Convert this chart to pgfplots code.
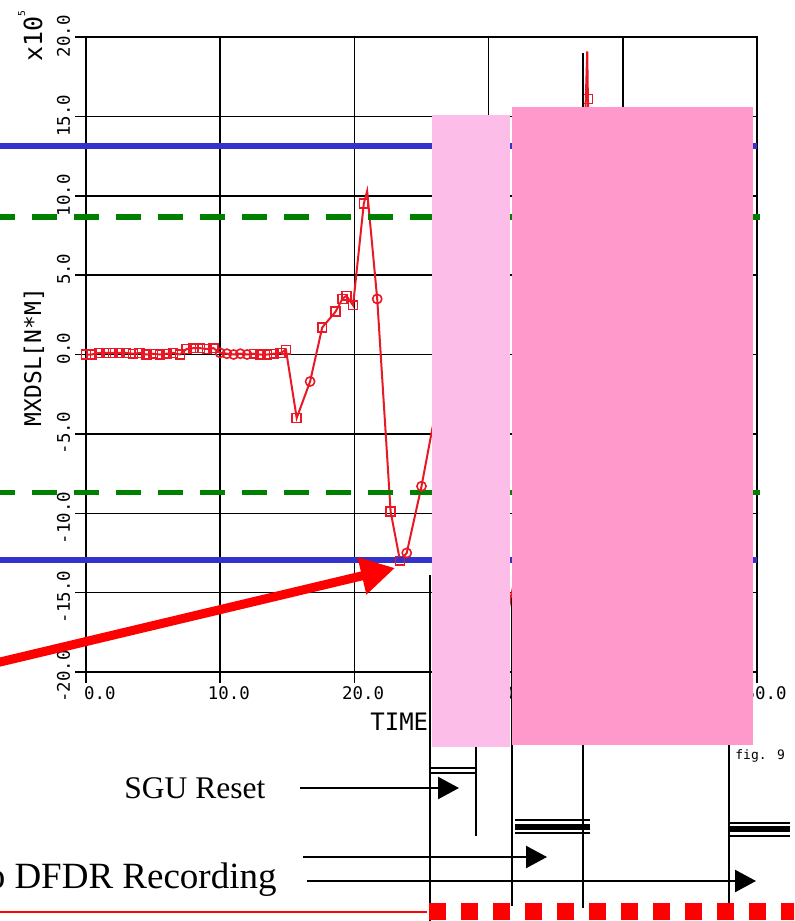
\documentclass[border=0pt]{standalone}
\usepackage{fontspec}
\usepackage{pgfplots}
\pgfplotsset{compat=1.18}
\usetikzlibrary{arrows.meta}
\newfontfamily\plotmono{DejaVu Sans Mono}
\newfontfamily\serifT{Liberation Serif}
\definecolor{bl}{RGB}{51,51,204}
\definecolor{gr}{RGB}{0,128,0}
\definecolor{dat}{RGB}{232,24,36}
\definecolor{pinkA}{RGB}{252,189,232}
\definecolor{pinkB}{RGB}{255,153,204}
\newcommand\ticfont{\plotmono\fontsize{8.7}{9}\selectfont}
\begin{document}
\begin{tikzpicture}
\path[use as bounding box, clip] (0,0) rectangle (397pt,-460.5pt);
\begin{axis}[
 at={(43pt,-336pt)}, anchor=south west,
 scale only axis, width=335.5pt, height=317.5pt,
 xmin=0, xmax=50, ymin=-20, ymax=20,
 xtick={0,10,...,50}, ytick={-20,-15,...,20},
 xticklabels={0.0,10.0,20.0,30.0,40.0,50.0},
 yticklabels={-20.0,-15.0,-10.0,-5.0,0.0,5.0,10.0,15.0,20.0},
 grid=major, major grid style={black, line width=0.75pt},
 axis line style={black, line width=0.8pt},
 tick style={black, line width=0.75pt},
 tick align=outside, major tick length=5.5pt,
 xtick pos=bottom, ytick pos=left,
 xticklabel style={font=\ticfont, anchor=north east, xshift=15pt, yshift=-1.5pt, inner sep=0pt},
 yticklabel style={font=\ticfont, rotate=90, anchor=base east, inner sep=0pt, xshift=11pt, yshift=2.5pt},
 clip=false,
]
% data line
\addplot[dat, line width=1pt, no marks] coordinates {
(0,0) (0.4,0) (1.0,0.1) (1.5,0.1) (2.0,0.1) (2.5,0.1) (3.0,0.1) (3.5,0.05) (4.0,0.1)
(4.5,0) (5.0,0.05) (5.5,0) (6.0,0.05) (6.5,0.1) (7.0,0) (7.5,0.35) (8.0,0.4) (8.5,0.4)
(9.0,0.35) (9.5,0.4) (10.0,0.1) (10.5,0.05) (11.0,0) (11.5,0.05) (12.0,0) (12.5,0.05)
(13.0,0) (13.5,0) (14.0,0.05) (14.5,0.1) (14.9,0.3) (15.7,-4.0) (16.7,-1.7) (17.6,1.7)
(18.6,2.7) (19.1,3.5) (19.4,3.7) (19.9,3.1) (20.7,9.5) (20.95,10.3) (21.7,3.5)
(22.7,-9.9) (23.4,-13.0) (23.9,-12.5) (25.0,-8.3) (25.8,-4.7)
(26.6,-1.5) (27.5,2) (28.5,4) (29.5,1) (30.5,-7) (31.2,-12.5) (31.6,-15.6) (32.2,-13)
(33.5,-6) (34.5,0) (35.5,4) (36.5,8) (37.1,12) (37.35,19.1) (37.4,16.1) (37.55,12)
(38.5,3) (40,0) (45,0)};
% square marks
\addplot[dat, line width=0.8pt, only marks, mark=square, mark size=2.2pt] coordinates {
(0,0) (0.4,0) (1.0,0.1) (1.5,0.1) (2.0,0.1) (2.5,0.1) (3.0,0.1) (3.5,0.05) (4.0,0.1)
(4.5,0) (5.0,0.05) (5.5,0) (6.0,0.05) (6.5,0.1) (7.0,0) (7.5,0.35) (8.0,0.4) (8.5,0.4)
(9.0,0.35) (9.5,0.4) (12.5,0.05) (13.0,0) (13.5,0) (14.0,0.05) (14.5,0.1) (14.9,0.3)
(15.7,-4.0) (17.6,1.7) (18.6,2.7) (19.1,3.5) (19.4,3.7) (19.9,3.1) (20.7,9.5)
(22.7,-9.9) (23.4,-13.0) (37.4,16.1)};
% circle marks
\addplot[dat, line width=0.8pt, only marks, mark=o, mark size=2.3pt] coordinates {
(10.0,0.1) (10.5,0.05) (11.0,0) (11.5,0.05) (12.0,0) (16.7,-1.7) (21.7,3.5) (23.9,-12.5) (25.0,-8.3)};
% limit lines
\addplot[bl, line width=2.8pt, no marks] coordinates {(-7,13.13) (50,13.13)};
\addplot[bl, line width=2.8pt, no marks] coordinates {(-7,-12.94) (50,-12.94)};
\addplot[gr, line width=2.8pt, no marks, dash pattern=on 12.5pt off 8.5pt, dash phase=1pt] coordinates {(-7,8.67) (50.2,8.67)};
\addplot[gr, line width=2.8pt, no marks, dash pattern=on 12.5pt off 8.5pt, dash phase=1pt] coordinates {(-7,-8.69) (50.2,-8.69)};
\end{axis}
\begin{scope}[x=0.5pt, y=-0.5pt]
\node[rotate=90, font=\plotmono\fontsize{11.5}{12}\selectfont, inner sep=0pt] at (34,357) {MXDSL[N*M]};
\node[rotate=90, anchor=base west, inner sep=0pt, font=\plotmono\fontsize{12.5}{13}\selectfont] at (42,62) {x10\raisebox{8.5pt}{\fontsize{4.8}{5}\selectfont 5}};
\node[anchor=base west, inner sep=0pt, font=\plotmono\fontsize{12}{12}\selectfont] at (370,730) {TIME};
\node[anchor=base west, inner sep=0pt, font=\plotmono\fontsize{6.5}{7}\selectfont] at (735,759) {fig. 9};
% timeline vertical lines
\draw[black, line width=1.3pt] (430,575)--(430,925);
\draw[black, line width=1.3pt] (476,740)--(476,836);
\draw[black, line width=1.3pt] (512,598)--(512,906);
\draw[black, line width=1.3pt] (583,53)--(583,908);
\draw[black, line width=1.3pt] (729,740)--(729,903);
% double bars
\draw[black, line width=1pt] (430,768.3)--(476,768.3);
\draw[black, line width=1pt] (430,772.7)--(476,772.7);
\draw[black, line width=1pt] (515,820)--(590,820);
\draw[black, line width=3pt] (515,827)--(590,827);
\draw[black, line width=1pt] (515,833)--(590,833);
\draw[black, line width=1pt] (729,822.7)--(790,822.7);
\draw[black, line width=3pt] (729,829.3)--(790,829.3);
\draw[black, line width=1pt] (729,835.7)--(790,835.7);
% pink boxes
\fill[pinkA] (432,115) rectangle (510,747);
\fill[pinkB] (512,107) rectangle (753,745);
% arrows and texts
\draw[black, line width=1.2pt, -{Triangle[length=10.5pt,width=11pt]}] (300,788)--(459,788);
\draw[black, line width=1.2pt, -{Triangle[length=10.5pt,width=11pt]}] (303,857)--(547,857);
\draw[black, line width=1.2pt, -{Triangle[length=10.5pt,width=11pt]}] (307,881)--(756,881);
\node[font=\serifT\fontsize{15.75}{16}\selectfont, anchor=base west, inner sep=0pt] at (124,798) {SGU Reset};
\node[font=\serifT\fontsize{18.5}{19}\selectfont, anchor=base east, inner sep=0pt] at (277,888) {to DFDR Recording};
% bottom red line
\draw[red, line width=1pt] (-5,912)--(427,912);
\draw[red, line width=8.5pt, dash pattern=on 8.5pt off 7.5pt] (429,911.5)--(810,911.5);
% big red arrow
\draw[red, line width=4.5pt, -{Triangle[length=17pt, width=18pt]}] (-10,664.4)--(395,568);
\end{scope}
\end{tikzpicture}
\end{document}
